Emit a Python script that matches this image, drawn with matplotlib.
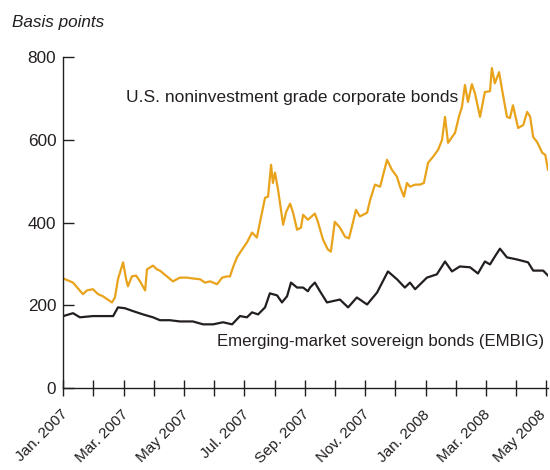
import matplotlib
matplotlib.use("Agg")
import matplotlib.pyplot as plt
import matplotlib.transforms as mtransforms

plt.rcParams['font.family'] = ['Liberation Sans', 'DejaVu Sans']

# x in months since Jan. 2007 (0 = Jan. 2007)
hy_x = [0.00, 0.32, 0.65, 0.78, 0.98, 1.15, 1.31, 1.61, 1.71, 1.81, 1.98, 2.08, 2.14, 2.27,
        2.41, 2.54, 2.71, 2.77, 2.97, 3.10, 3.20, 3.43, 3.63, 3.86, 4.09, 4.29, 4.53, 4.69,
        4.86, 5.09, 5.26, 5.42, 5.52, 5.62, 5.75, 5.92, 6.08, 6.25, 6.41, 6.51, 6.68, 6.78,
        6.88, 6.94, 7.01, 7.11, 7.28, 7.38, 7.51, 7.61, 7.74, 7.87, 7.94, 8.10, 8.33, 8.43,
        8.60, 8.76, 8.86, 8.99, 9.16, 9.33, 9.46, 9.59, 9.69, 9.82, 10.06, 10.16, 10.32,
        10.49, 10.72, 10.88, 11.05, 11.15, 11.28, 11.38, 11.48, 11.65, 11.81, 11.94, 12.08,
        12.24, 12.41, 12.54, 12.64, 12.74, 12.87, 12.97, 13.10, 13.20, 13.30, 13.40, 13.53,
        13.63, 13.80, 13.96, 14.13, 14.19, 14.29, 14.43, 14.56, 14.69, 14.79, 14.89, 15.06,
        15.23, 15.36, 15.46, 15.56, 15.69, 15.86, 15.96, 16.05]
hy_y = [265, 255, 227, 236, 239, 227, 222, 207, 219, 263, 304, 263, 246, 270,
        272, 258, 236, 287, 296, 287, 284, 270, 258, 267, 267, 265, 263, 255,
        258, 251, 267, 270, 270, 292, 316, 335, 352, 376, 364, 400, 460, 463,
        540, 496, 521, 480, 395, 426, 446, 424, 383, 388, 419, 407, 422, 402,
        359, 335, 330, 402, 388, 366, 362, 400, 431, 415, 424, 455, 492,
        487, 552, 528, 511, 487, 463, 496, 487, 492, 492, 496, 545,
        559, 576, 600, 656, 593, 607, 617, 656, 680, 733, 692, 735,
        713, 656, 716, 718, 774, 737, 764, 709, 656, 653, 684, 629,
        636, 668, 656, 607, 595, 569, 564, 528]

em_x = [0.00, 0.32, 0.55, 0.98, 1.31, 1.65, 1.81, 2.04, 2.31, 2.64, 2.97, 3.20, 3.53, 3.86,
        4.29, 4.63, 4.96, 5.29, 5.59, 5.85, 6.08, 6.25, 6.45, 6.68, 6.84, 7.08, 7.24, 7.41,
        7.54, 7.74, 7.94, 8.10, 8.17, 8.33, 8.50, 8.73, 9.16, 9.43, 9.72, 10.06, 10.39,
        10.75, 11.05, 11.31, 11.48, 11.65, 12.04, 12.37, 12.64, 12.87, 13.13, 13.47, 13.73,
        13.96, 14.13, 14.29, 14.46, 14.69, 15.02, 15.39, 15.56, 15.89, 16.05]
em_y = [174, 181, 171, 174, 174, 174, 195, 193, 186, 178, 171, 164, 164, 161,
        161, 154, 154, 159, 154, 174, 171, 183, 178, 195, 229, 224, 207, 222,
        255, 243, 243, 234, 243, 255, 234, 207, 214, 195, 219, 202, 231,
        282, 263, 243, 255, 239, 267, 275, 306, 282, 294, 292, 277,
        306, 299, 318, 337, 316, 311, 304, 284, 284, 272]

tick_pos = list(range(0, 17))
tick_labels = ['Jan. 2007', '', 'Mar. 2007', '', 'May 2007', '', 'Jul. 2007', '',
               'Sep. 2007', '', 'Nov. 2007', '', 'Jan. 2008', '', 'Mar. 2008', '', 'May 2008']

ORANGE = '#E9A31B'
DARK = '#231F20'

fig = plt.figure(figsize=(5.5, 4.7), dpi=100)
ax = fig.add_axes([63.3 / 550, (470 - 388) / 470, (548 - 63.3) / 550, (388 - 57.3) / 470])

ax.plot(hy_x, hy_y, color=ORANGE, lw=1.6, solid_joinstyle='round')
ax.plot(em_x, em_y, color=DARK, lw=1.6, solid_joinstyle='round')

ax.set_xlim(0, 16.05)
ax.set_ylim(0, 800)
ax.set_yticks([0, 200, 400, 600, 800])
ax.set_xticks(tick_pos)
ax.set_xticklabels(tick_labels, rotation=45, ha='right', va='center',
                   rotation_mode='anchor')

for s in ['top', 'right']:
    ax.spines[s].set_visible(False)
for s in ['left', 'bottom']:
    ax.spines[s].set_color(DARK)
    ax.spines[s].set_linewidth(1.0)

ax.tick_params(axis='y', direction='in', length=8, width=1.0, colors=DARK,
               labelsize=12.3, pad=5)
ax.tick_params(axis='x', direction='inout', length=11, width=1.0, colors=DARK,
               labelsize=11.0, pad=12)

labels = ax.get_xticklabels()
for i, lab in enumerate(labels):
    dx = 2 if i < len(labels) - 1 else -3
    off = mtransforms.ScaledTranslation(dx / 100, 0, fig.dpi_scale_trans)
    lab.set_transform(lab.get_transform() + off)

ax.text(2.07, 692, 'U.S. noninvestment grade corporate bonds', fontsize=12.5,
        color=DARK, va='baseline', ha='left')
ax.text(5.09, 101.6, 'Emerging-market sovereign bonds (EMBIG)', fontsize=12.1,
        color=DARK, va='baseline', ha='left', clip_on=False)

fig.text(12/550, 1 - 26.7/470, 'Basis points', fontsize=12.3, style='italic',
         color=DARK, va='baseline', ha='left')

fig.savefig('out.png', dpi=100)
